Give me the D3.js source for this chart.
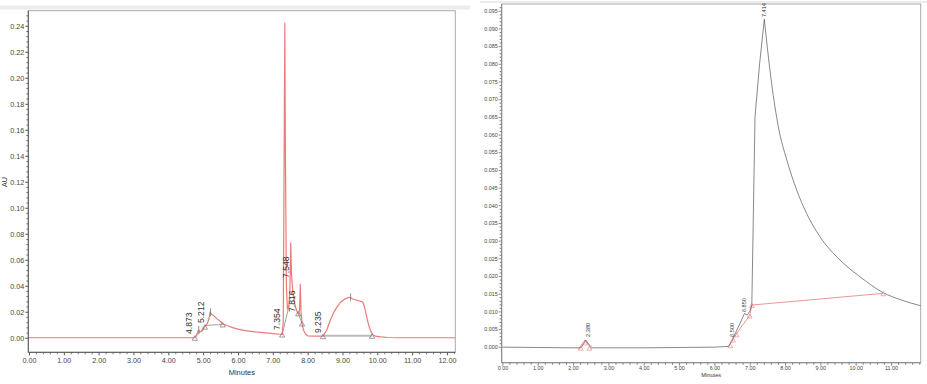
<!DOCTYPE html>
<html>
<head>
<meta charset="utf-8">
<script src="https://cdn.jsdelivr.net/npm/d3@7"></script>
<style>
  body { margin: 0; background: #fff; }
  svg { display: block; }
  text { font-family: "Liberation Sans", Arial, sans-serif; }
</style>
</head>
<body>
<svg id="chart"></svg>
<script>
// ---- left chromatogram (red trace, AU vs minutes) ----
const leftTrace = [
  [0, 0], [4.74, 0], [4.78, 0.0005], [4.84, 0.004], [4.87, 0.006], [4.90, 0.0045], [4.96, 0.005],
  [5.05, 0.0085], [5.12, 0.011], [5.17, 0.015], [5.20, 0.020], [5.23, 0.0185], [5.30, 0.017],
  [5.40, 0.0145], [5.50, 0.0125], [5.56, 0.0108], [5.70, 0.0092], [5.85, 0.0078], [6.00, 0.0066],
  [6.20, 0.0055], [6.50, 0.0045], [6.80, 0.0037], [7.00, 0.0032], [7.20, 0.0027], [7.27, 0.0025],
  [7.30, 0.012], [7.33, 0.16], [7.345, 0.242], [7.36, 0.15], [7.39, 0.04], [7.42, 0.022],
  [7.46, 0.025], [7.49, 0.035], [7.515, 0.073], [7.535, 0.05], [7.55, 0.044], [7.58, 0.034],
  [7.63, 0.026], [7.68, 0.021], [7.74, 0.018], [7.77, 0.022], [7.79, 0.041], [7.81, 0.02],
  [7.84, 0.011], [7.88, 0.006], [7.93, 0.0032], [8.00, 0.0015], [8.20, 0.0012], [8.44, 0.0012],
  [8.55, 0.006], [8.65, 0.0135], [8.75, 0.0195], [8.85, 0.024], [8.95, 0.0275], [9.05, 0.0295],
  [9.15, 0.0308], [9.22, 0.031], [9.30, 0.0298], [9.40, 0.029], [9.50, 0.0283], [9.58, 0.0275],
  [9.63, 0.024], [9.68, 0.018], [9.74, 0.011], [9.80, 0.006], [9.86, 0.0025], [9.95, 0.0012],
  [10.10, 0.0006], [10.30, 0.0002], [10.60, 0], [12.24, 0]
]
const leftBaselines = [
  [[4.76, 0], [5.05, 0.0085]],
  [[5.05, 0.0095], [5.56, 0.0102]],
  [[7.27, 0.0025], [7.47, 0.025]],
  [[7.73, 0.0188], [7.84, 0.011]]
]
const leftFlatBase = [[8.44, 0.0015], [9.85, 0.0015]]
const leftMarkers = [[4.76, 0], [5.05, 0.0085], [5.56, 0.0102], [7.27, 0.0025], [7.73, 0.0188],
  [7.84, 0.011], [8.44, 0.0012], [9.85, 0.0015]]
const leftApex = [[4.873, 0.006], [5.212, 0.0195], [9.235, 0.031]]
const leftLabels = [
  ['4.873', 4.68, 0.0029], ['5.212', 5.024, 0.0113], ['7.354', 7.206, 0.006],
  ['7.548', 7.465, 0.046], ['7.816', 7.637, 0.0198], ['9.235', 8.385, 0.0036]
]
const leftXTicks = [0, 1, 2, 3, 4, 5, 6, 7, 8, 9, 10, 11, 12]
const leftYTicks = [0, 0.02, 0.04, 0.06, 0.08, 0.10, 0.12, 0.14, 0.16, 0.18, 0.20, 0.22, 0.24]

// ---- right chromatogram (black trace, red baseline) ----
// rise up to the 7.414 apex, then the tailing decay
const rightRise = [
  [0, -0.0001], [1.0, -0.0002], [2.0, -0.0003], [2.22, -0.0003], [2.30, 0.0008], [2.36, 0.0019],
  [2.45, 0.0006], [2.55, -0.0003], [3.0, -0.0003], [4.0, -0.0003], [5.0, -0.0002], [6.0, -0.0001],
  [6.40, 0.0001], [6.50, 0.0018], [6.60, 0.004], [6.72, 0.0065], [6.85, 0.0094], [6.93, 0.009],
  [7.00, 0.0100], [7.06, 0.0118], [7.15, 0.065], [7.28, 0.080], [7.414, 0.0926]
]
const rightTail = [
  [7.414, 0.0926], [7.50, 0.0845], [7.62, 0.0745], [7.81, 0.0622], [8.05, 0.0528], [8.33, 0.0443],
  [8.61, 0.0377], [8.99, 0.0311], [9.56, 0.0245], [10.12, 0.0198], [10.78, 0.0153], [11.30, 0.0132],
  [11.84, 0.0116]
]
const rightBaselines = [
  [[2.15, -0.0007], [2.34, 0.0019], [2.53, -0.0007]],
  [[6.40, 0.0], [6.55, 0.0025], [6.75, 0.0055], [7.00, 0.0088], [7.06, 0.0118], [10.78, 0.0151]]
]
const rightMarkers = [[2.22, -0.0003], [2.34, 0.0012], [2.46, -0.0003], [6.45, 0.0004],
  [6.53, 0.002], [6.63, 0.0035], [7.00, 0.0088], [7.06, 0.0118], [10.78, 0.0151]]
const rightLabels = [
  ['2.380', 2.48, 0.0028], ['6.500', 6.555, 0.0028], ['6.850', 6.909, 0.0098], ['7.414', 7.475, 0.0932]
]
const rightXTicks = [0, 1, 2, 3, 4, 5, 6, 7, 8, 9, 10, 11]
const rightYTicks = d3.range(0, 20).map(i => i * 0.005)

const W = 927, H = 384
const svg = d3.select('#chart').attr('width', W).attr('height', H)

// light strips along the top of the screenshot
svg.append('rect').attr('x', 0).attr('y', 5.5).attr('width', 470).attr('height', 4).attr('fill', '#ececec')
svg.append('rect').attr('x', 480).attr('y', 1).attr('width', 447).attr('height', 2).attr('fill', '#ececec')

function panel(opt) {
  const g = svg.append('g')
  const x = d3.scaleLinear().domain(opt.xDomain).range([opt.left, opt.right])
  const y = d3.scaleLinear().domain(opt.yDomain).range([opt.bottom, opt.top])

  // frame
  g.append('rect')
    .attr('x', opt.left).attr('y', opt.top)
    .attr('width', opt.right - opt.left).attr('height', opt.bottom - opt.top)
    .attr('fill', 'none').attr('stroke', '#aaa').attr('stroke-width', 1)

  // minor ticks
  const xMinor = d3.range(0, opt.xDomain[1], 0.2).filter(v => Math.abs(v - Math.round(v)) > 1e-6)
  const yMinor = d3.range(opt.yMinorStep, opt.yDomain[1], opt.yMinorStep)
    .filter(v => Math.abs(v / opt.yMajorStep - Math.round(v / opt.yMajorStep)) > 1e-6)
  g.append('g').attr('transform', `translate(0,${opt.bottom})`)
    .call(d3.axisBottom(x).tickValues(xMinor).tickSize(2).tickFormat(''))
    .call(a => a.select('.domain').remove())
    .selectAll('line').attr('stroke', '#777')
  g.append('g').attr('transform', `translate(${opt.left},0)`)
    .call(d3.axisLeft(y).tickValues(yMinor).tickSize(2).tickFormat(''))
    .call(a => a.select('.domain').remove())
    .selectAll('line').attr('stroke', '#777')

  // major axes
  const xa = g.append('g').attr('transform', `translate(0,${opt.bottom})`)
    .call(d3.axisBottom(x).tickValues(opt.xTicks).tickSize(3).tickPadding(opt.xPad)
      .tickFormat(d3.format('.2f')))
  const ya = g.append('g').attr('transform', `translate(${opt.left},0)`)
    .call(d3.axisLeft(y).tickValues(opt.yTicks).tickSize(3).tickPadding(1)
      .tickFormat(d3.format(opt.yFmt)))
  for (const a of [xa, ya]) {
    a.select('.domain').remove()
    a.selectAll('line').attr('stroke', opt.axisColor)
    a.selectAll('text').attr('font-size', opt.tickFont).attr('fill', '#444')
      .attr('font-family', opt.family)
  }
  g.append('line').attr('x1', opt.left).attr('x2', opt.right).attr('y1', opt.bottom).attr('y2', opt.bottom)
    .attr('stroke', opt.axisColor)
  g.append('line').attr('x1', opt.left).attr('x2', opt.left).attr('y1', opt.top).attr('y2', opt.bottom)
    .attr('stroke', opt.axisColor)

  g.append('text')
    .attr('x', (opt.left + opt.right) / 2).attr('y', opt.titleY)
    .attr('text-anchor', 'middle').attr('font-size', opt.tickFont + 0.3).attr('fill', '#333')
    .attr('font-family', opt.family)
    .text('Minutes')

  return { g, x, y }
}

const line = (x, y) => d3.line().x(d => x(d[0])).y(d => y(d[1]))
const tri = d3.symbol().type(d3.symbolTriangle)

// ---------- left panel ----------
{
  const { g, x, y } = panel({
    left: 28.3, right: 455.3, top: 10.7, bottom: 352.3,
    xDomain: [-0.02, 12.24], yDomain: [-0.0112, 0.2516],
    xTicks: leftXTicks, yTicks: leftYTicks, yFmt: '.2f',
    yMinorStep: 0.004, yMajorStep: 0.02,
    tickFont: 7.2, xPad: 3, titleY: 374.5, axisColor: '#555',
    family: '"Liberation Sans", Arial, sans-serif'
  })

  svg.append('text')
    .attr('transform', `translate(6.5,182) rotate(-90)`)
    .attr('text-anchor', 'middle').attr('font-size', 7.2).attr('fill', '#333')
    .text('AU')

  const ln = line(x, y)
  g.append('path').datum(leftFlatBase).attr('d', ln)
    .attr('fill', 'none').attr('stroke', '#bbb').attr('stroke-width', 2)
  leftBaselines.forEach(seg => {
    g.append('path').datum(seg).attr('d', ln)
      .attr('fill', 'none').attr('stroke', '#888').attr('stroke-width', 0.8)
  })
  g.append('path').datum(leftTrace).attr('d', ln)
    .attr('fill', 'none').attr('stroke', '#ec7a7a').attr('stroke-width', 1.2)
    .attr('stroke-linejoin', 'round')

  g.selectAll('.lm').data(leftMarkers).join('path')
    .attr('transform', d => `translate(${x(d[0])},${y(d[1]) + 1})`)
    .attr('d', tri.size(12)())
    .attr('fill', 'none').attr('stroke', '#777').attr('stroke-width', 0.7)

  g.selectAll('.la').data(leftApex).join('line')
    .attr('x1', d => x(d[0])).attr('x2', d => x(d[0]))
    .attr('y1', d => y(d[1]) - 4).attr('y2', d => y(d[1]) + 4)
    .attr('stroke', '#777').attr('stroke-width', 0.8)

  g.selectAll('.ll').data(leftLabels).join('text')
    .attr('transform', d => `translate(${x(d[1])},${y(d[2])}) rotate(-90)`)
    .attr('font-size', 8.6).attr('fill', '#333')
    .text(d => d[0])
}

// ---------- right panel ----------
{
  const fam = '"Liberation Sans Narrow", "Liberation Sans", Arial, sans-serif'
  const { g, x, y } = panel({
    left: 501.7, right: 920.7, top: 4, bottom: 362.7,
    xDomain: [-0.02, 11.84], yDomain: [-0.0045, 0.0969],
    xTicks: rightXTicks, yTicks: rightYTicks, yFmt: '.3f',
    yMinorStep: 0.001, yMajorStep: 0.005,
    tickFont: 5.4, xPad: 0.5, titleY: 377, axisColor: '#888',
    family: fam
  })

  const ln = line(x, y)
  rightBaselines.forEach(seg => {
    g.append('path').datum(seg).attr('d', ln)
      .attr('fill', 'none').attr('stroke', '#e77c7c').attr('stroke-width', 0.8)
  })
  g.append('path').datum(rightRise).attr('d', ln)
    .attr('fill', 'none').attr('stroke', '#555').attr('stroke-width', 0.7)
    .attr('stroke-linejoin', 'round')
  g.append('path').datum(rightTail).attr('d', line(x, y).curve(d3.curveMonotoneX))
    .attr('fill', 'none').attr('stroke', '#555').attr('stroke-width', 0.7)

  g.selectAll('.rm').data(rightMarkers).join('path')
    .attr('transform', d => `translate(${x(d[0])},${y(d[1]) + 1})`)
    .attr('d', tri.size(10)())
    .attr('fill', 'none').attr('stroke', '#e77c7c').attr('stroke-width', 0.6)

  g.selectAll('.rl').data(rightLabels).join('text')
    .attr('transform', d => `translate(${x(d[1])},${y(d[2])}) rotate(-90)`)
    .attr('font-size', 5.6).attr('fill', '#333').attr('font-family', fam)
    .text(d => d[0])
}
</script>
</body>
</html>
